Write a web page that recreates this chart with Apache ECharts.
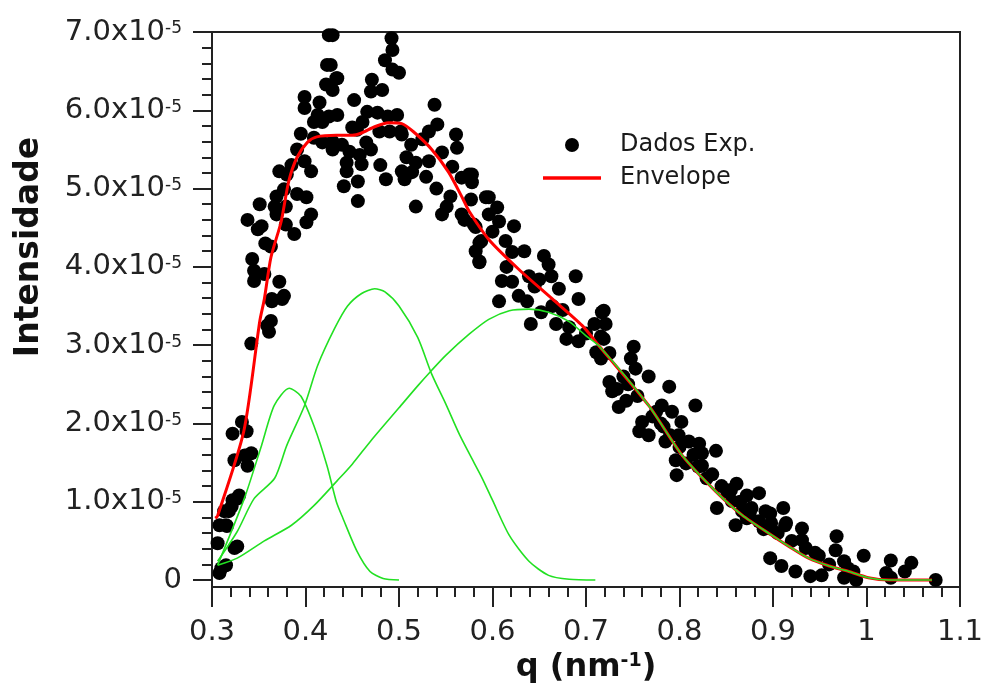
<!DOCTYPE html>
<html><head><meta charset="utf-8">
<script src="https://cdn.jsdelivr.net/npm/echarts@6/dist/echarts.min.js"></script>
<style>html,body{margin:0;padding:0;background:#fff}#c{width:987px;height:689px}</style>
</head><body><div id="c"></div>
<script>
// Intensities are in units of 1e-5 (the axis labels show x10^-5)
const expQ = [
0.308,0.310,0.306,0.324,0.327,0.308,0.315,0.321,0.327,0.313,0.335,0.324,0.338,0.342,0.322,0.332,0.337,0.342,0.359,0.361,0.364,0.375,
0.315,0.316,0.318,0.322,0.329,
0.425,0.423,0.422,0.429,0.433,0.399,0.399,0.415,0.413,0.409,0.418,0.425,0.409,0.418,0.429,0.391,0.399,0.406,0.372,0.380,0.377,0.369,0.391,0.401,0.351,0.367,0.379,0.369,0.406,0.401,0.353,0.349,0.379,0.388,0.363,0.343,0.345,0.356,0.345,0.372,0.364,0.377,0.363,
0.429,0.492,0.493,0.485,0.493,0.500,0.427,0.434,0.471,0.470,0.482,0.452,0.538,0.434,0.466,0.477,0.488,0.498,0.461,0.450,0.541,0.532,0.479,0.490,0.502,0.429,0.439,0.465,0.503,0.513,0.525,0.561,0.562,0.546,0.447,0.458,0.444,0.460,0.508,0.518,0.532,0.557,0.575,0.444,0.503,0.514,0.529,0.567,0.456,0.486,0.506,0.441,0.456,0.518,0.551,0.546,0.567,0.593,0.582,0.588,0.582,0.586,
0.578,0.578,0.577,0.596,0.605,0.596,0.607,0.580,0.623,0.586,0.586,0.614,0.621,0.634,0.655,0.660,0.610,0.621,0.639,0.650,0.663,0.689,0.671,0.628,0.607,0.637,0.692,0.664,0.641,0.652,0.668,0.682,0.717,0.709,0.721,0.679,0.692,0.716,0.711,0.751,
0.719,0.719,0.716,0.748,0.753,0.767,0.725,0.728,0.733,0.735,0.743,0.789,0.817,0.781,0.792,0.760,0.771,0.757,0.767,0.802,0.783,0.785,0.799,0.810,0.821,0.839,0.824,0.796,0.807,0.797,0.824,0.829,0.861,0.885,0.872,0.851,0.840,0.856,0.867,0.877,0.892,0.911,0.860,0.872,0.898,0.913,
0.897,0.914,0.931,0.897,0.931,0.935,0.968,0.967,0.949,0.997,0.976,0.897,0.909,0.924,0.940,0.952,0.986,0.989,0.976,1.026,1.048,1.041,1.026,1.021,1.074,
0.725,0.740,0.745,0.755,0.775,0.780,0.790,0.800,0.815,0.820,0.835,0.845,0.855,0.865,0.875,0.885,0.890,0.905,0.920,0.945,0.960,0.980,
0.540,0.555,0.570,0.600,0.615,0.645,0.675,0.700,0.470,0.480,0.455,0.395,0.385,0.357,0.338
];
const expI = [
0.09,0.15,0.47,0.41,0.43,0.70,0.70,0.94,1.04,0.88,1.59,1.53,1.46,1.62,1.87,2.02,1.90,3.02,3.25,3.17,3.56,3.59,
0.19,0.69,0.88,1.02,1.08,
6.96,6.58,6.33,6.26,6.41,6.17,6.03,6.10,5.94,5.85,5.85,5.92,5.65,5.59,5.50,5.50,5.35,5.22,5.22,5.18,4.99,4.90,4.93,4.89,4.80,4.77,4.77,4.67,4.67,4.57,4.52,4.48,4.54,4.42,4.26,4.10,3.95,3.91,3.82,3.81,3.59,3.63,3.31,
6.96,6.92,6.77,6.64,6.52,6.48,6.58,6.41,6.39,6.24,6.26,6.13,6.07,5.94,5.98,5.97,5.92,5.94,5.85,5.78,5.82,5.73,5.73,5.73,5.73,5.60,5.56,5.59,5.69,5.56,5.63,5.69,5.52,5.46,5.47,5.43,5.33,5.31,5.40,5.33,5.35,5.28,5.18,5.22,5.22,5.21,5.15,5.14,5.09,5.12,5.12,5.03,4.84,4.77,4.77,4.67,4.67,4.89,4.51,4.33,4.20,4.06,
5.18,5.08,4.86,4.89,4.76,4.67,4.58,4.54,4.52,4.31,4.07,4.33,4.19,4.20,4.14,4.03,3.82,3.81,3.88,3.84,3.88,3.88,3.72,3.63,3.56,3.56,3.59,3.50,3.27,3.42,3.27,3.23,3.42,3.27,3.27,3.08,3.05,3.11,2.91,2.98,
3.44,3.08,2.83,2.83,2.70,2.60,2.53,2.41,2.44,2.21,2.29,2.47,2.23,2.23,2.15,2.02,2.09,1.90,1.85,2.02,1.96,1.77,1.85,1.77,1.74,1.65,1.62,1.53,1.49,1.34,1.46,1.30,1.23,1.11,1.08,1.13,0.92,1.01,0.88,0.92,0.88,0.92,0.70,0.79,0.73,0.70,
0.85,0.73,0.66,0.66,0.51,0.41,0.56,0.38,0.31,0.31,0.24,0.28,0.18,0.11,0.05,0.06,0.11,0.00,0.03,0.25,0.22,0.11,0.03,0.09,0.00,
2.90,2.60,2.50,2.35,2.15,2.00,1.85,1.70,1.60,1.45,1.35,1.20,1.15,1.00,0.85,0.75,0.65,0.60,0.50,0.35,0.20,0.15,
5.00,4.90,4.60,4.45,4.00,3.75,3.45,3.15,5.50,5.30,5.75,5.70,5.30,4.30,4.60
];
const envQ = [0.3035,0.306,0.334,0.351,0.356,0.363,0.374,0.382,0.391,0.402,0.412,0.433,0.45,0.46,0.474,0.489,0.503,0.517,0.535,0.553,0.567,0.575,0.596,0.628,0.664,0.696,0.714,0.767,0.803,0.839,0.867,0.899,0.917,0.938,0.96,0.981,1.002,1.024,1.07];
const envI = [0.79,0.82,1.90,3.30,3.59,4.12,4.58,5.09,5.40,5.59,5.66,5.68,5.68,5.71,5.79,5.84,5.83,5.71,5.50,5.21,4.90,4.71,4.35,3.97,3.59,3.25,2.99,2.23,1.59,1.13,0.83,0.57,0.43,0.28,0.18,0.11,0.03,0.00,0.00];
const peak1Q = [0.306,0.3345,0.353,0.3666,0.3826,0.395,0.409,0.423,0.433,0.44,0.455,0.469,0.483,0.5];
const peak1I = [0.19,1.04,1.72,2.23,2.45,2.35,1.97,1.46,1.00,0.79,0.37,0.11,0.02,0.00];
const peak2Q = [0.306,0.327,0.345,0.367,0.38,0.399,0.413,0.431,0.445,0.46,0.474,0.485,0.5,0.52,0.535,0.55,0.565,0.578,0.589,0.6,0.618,0.639,0.66,0.682,0.71];
const peak2I = [0.24,0.62,1.04,1.30,1.72,2.23,2.74,3.21,3.50,3.66,3.72,3.68,3.50,3.10,2.63,2.25,1.85,1.55,1.30,1.02,0.57,0.24,0.06,0.01,0.00];
const peak3Q = [0.306,0.327,0.356,0.385,0.409,0.434,0.45,0.47,0.5,0.52,0.535,0.55,0.575,0.596,0.618,0.639,0.66,0.682,0.70,0.714,0.767,0.803,0.839,0.867,0.899,0.917,0.938,0.96,0.981,1.002,1.024,1.07];
const peak3I = [0.19,0.28,0.50,0.70,0.95,1.27,1.48,1.78,2.20,2.48,2.68,2.87,3.14,3.33,3.44,3.46,3.42,3.30,3.12,2.99,2.23,1.59,1.13,0.83,0.57,0.43,0.28,0.18,0.11,0.03,0.00,0.00];
const yMajorTicks = [0,1,2,3,4,5,6,7];
const yMinorTicks = [];
for (let k = 1; k < 35; k++) if (k % 5) yMinorTicks.push(k / 5);

const zip = (a, b) => a.map((v, i) => [v, b[i]]);
const FONT = 'DejaVu Sans';
const AX = '#222';
const chart = echarts.init(document.getElementById('c'));
chart.setOption({
  animation: false,
  backgroundColor: '#fff',
  grid: {left: 212, right: 27, top: 32, bottom: 100, show: true, borderColor: AX, borderWidth: 2, backgroundColor: 'transparent'},
  legend: {
    orient: 'vertical', left: 538, top: 128, itemWidth: 58, itemHeight: 14, itemGap: 9,
    textStyle: {fontFamily: FONT, fontSize: 24, color: '#1a1a1a', lineHeight: 24, padding: [0, 0, 0, 14]},
    data: [
      {name: 'Dados Exp.', icon: 'circle', itemStyle: {color: '#000', opacity: 1}},
      {name: 'Envelope', icon: 'path://M0,0 M0,5.3 L58,5.3 L58,8.7 L0,8.7 Z M58,14', itemStyle: {color: '#ff0000', borderWidth: 0}}
    ]
  },
  xAxis: {
    type: 'value', min: 0.3, max: 1.1, interval: 0.1,
    name: '{t|q (nm}{s|-1}{t|)}', nameLocation: 'middle', nameGap: 62,
    nameTextStyle: {rich: {
      t: {fontFamily: FONT, fontWeight: 'bold', fontSize: 32, color: '#111'},
      s: {fontFamily: FONT, fontWeight: 'bold', fontSize: 19, color: '#111', verticalAlign: 'top'}
    }},
    axisLine: {onZero: false, lineStyle: {color: AX, width: 2}},
    axisTick: {inside: false, length: 20, lineStyle: {color: AX, width: 2}},
    minorTick: {show: true, splitNumber: 5, length: 10, lineStyle: {color: AX, width: 2}},
    splitLine: {show: false},
    axisLabel: {fontFamily: FONT, fontSize: 29, color: '#222', margin: 31}
  },
  yAxis: [{
    type: 'value', min: -0.09, max: 7,
    axisLine: {onZero: false, lineStyle: {color: AX, width: 2}},
    axisTick: {inside: false, length: 19, customValues: yMajorTicks, lineStyle: {color: AX, width: 2}},
    splitLine: {show: false},
    axisLabel: {
      customValues: yMajorTicks, margin: 30,
      formatter: v => v === 0 ? '{b|0}' : '{b|' + v.toFixed(1) + 'x10}{s|-5}',
      rich: {
        b: {fontFamily: FONT, fontSize: 29, color: '#222'},
        s: {fontFamily: FONT, fontSize: 17, color: '#222', verticalAlign: 'top', padding: [3, 0, 0, 0]}
      }
    }
  }, {
    type: 'value', min: -0.09, max: 7, position: 'left',
    axisLine: {show: false},
    axisTick: {show: true, inside: false, length: 10, customValues: yMinorTicks, lineStyle: {color: AX, width: 2}},
    axisLabel: {show: false},
    splitLine: {show: false}
  }],
  graphic: [{
    type: 'text', x: 29, y: 247, rotation: Math.PI / 2,
    style: {text: 'Intensidade', font: 'bold 33px "DejaVu Sans"', fill: '#111', align: 'center', verticalAlign: 'middle'}
  }],
  series: [
    {name: 'Dados Exp.', type: 'scatter', symbol: 'circle', symbolSize: 14, itemStyle: {color: '#000', opacity: 1}, data: zip(expQ, expI), z: 2},
    {name: 'Envelope', type: 'line', symbol: 'none', smooth: 0.25, lineStyle: {color: '#ff0000', width: 3}, itemStyle: {color: '#ff0000'}, data: zip(envQ, envI), z: 3},
    {name: 'Pico 1', type: 'line', symbol: 'none', smooth: 0.25, lineStyle: {color: '#22e022', width: 1.6}, data: zip(peak1Q, peak1I), z: 4},
    {name: 'Pico 2', type: 'line', symbol: 'none', smooth: 0.25, lineStyle: {color: '#22e022', width: 1.6}, data: zip(peak2Q, peak2I), z: 4},
    {name: 'Pico 3', type: 'line', symbol: 'none', smooth: 0.25, lineStyle: {color: '#22e022', width: 1.6}, data: zip(peak3Q, peak3I), z: 4}
  ]
});
</script></body></html>
